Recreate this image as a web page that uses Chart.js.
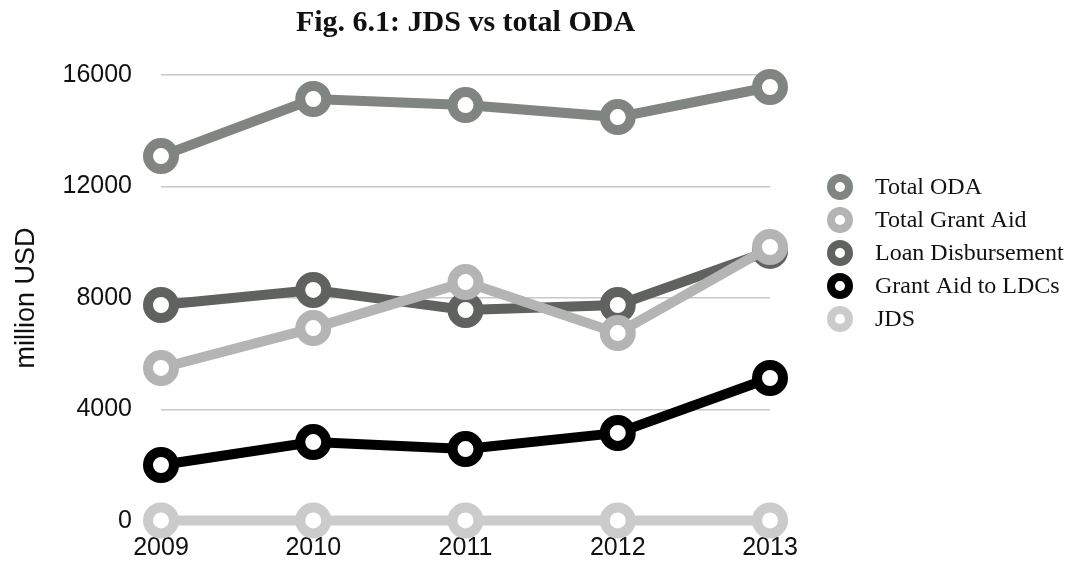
<!DOCTYPE html>
<html>
<head>
<meta charset="utf-8">
<title>Fig. 6.1: JDS vs total ODA</title>
<script src="https://cdn.jsdelivr.net/npm/chart.js@4.4.1/dist/chart.umd.min.js"></script>
<style>
    html, body { margin: 0; padding: 0; background: #fff; overflow: hidden; }
    #wrap { width: 1084px; height: 565px; position: relative; }
</style>
</head>
<body>
<div id="wrap"><canvas id="graficoOda"></canvas></div>
<script>
// Data (million USD)
const years = ['2009', '2010', '2011', '2012', '2013'];
const totalOda = [13090, 15140, 14920, 14490, 15570];
const totalGrantAid = [5490, 6920, 8570, 6740, 9830];
const loanDisbursement = [7750, 8290, 7570, 7750, 9690];
const grantAidLdcs = [2010, 2830, 2580, 3160, 5130];
const jds = [20, 20, 20, 20, 20];
const yTicks = [0, 4000, 8000, 12000, 16000];

const seriesNames = ['Total ODA', 'Total Grant Aid', 'Loan Disbursement', 'Grant Aid to LDCs', 'JDS'];
const seriesColors = ['#808582', '#b4b4b4', '#5f625f', '#000000', '#cbcbcb'];
const seriesData = [totalOda, totalGrantAid, loanDisbursement, grantAidLdcs, jds];

function makeDataset(i) {
    return {
        label: seriesNames[i],
        data: seriesData[i],
        borderColor: seriesColors[i],
        backgroundColor: '#ffffff',
        borderWidth: 10,
        tension: 0,
        fill: false,
        clip: false,
        pointRadius: 13,
        pointHoverRadius: 13,
        pointBorderWidth: 10,
        pointBackgroundColor: '#ffffff',
        pointBorderColor: seriesColors[i]
    };
}

// Legend drawn by hand so it sits where the original one is
const sideLegend = {
    id: 'sideLegend',
    afterDraw(chart) {
        const ctx = chart.ctx;
        ctx.save();
        ctx.font = '24px "Liberation Serif", "DejaVu Serif", serif';
        ctx.textBaseline = 'middle';
        ctx.textAlign = 'left';
        seriesNames.forEach((name, i) => {
            const y = 187 + i * 33;
            ctx.beginPath();
            ctx.arc(840, y, 9, 0, Math.PI * 2);
            ctx.fillStyle = '#ffffff';
            ctx.fill();
            ctx.lineWidth = 8;
            ctx.strokeStyle = seriesColors[i];
            ctx.stroke();
            ctx.fillStyle = '#111111';
            ctx.fillText(name, 875, y + 1);
        });
        ctx.restore();
    }
};

const ctx = document.getElementById('graficoOda').getContext('2d');
new Chart(ctx, {
    type: 'line',
    data: {
        labels: years,
        datasets: seriesData.map((_, i) => makeDataset(i))
    },
    options: {
        responsive: true,
        maintainAspectRatio: false,
        animation: false,
        layout: { autoPadding: false, padding: { right: 314, bottom: 0, left: 0 } },
        plugins: {
            legend: { display: false },
            tooltip: { enabled: false },
            title: {
                display: true,
                fullSize: false,
                text: 'Fig. 6.1: JDS vs total ODA',
                color: '#111111',
                font: { family: '"Liberation Serif", "DejaVu Serif", serif', size: 30, weight: 'bold' },
                padding: { top: 5, bottom: 34 }
            }
        },
        scales: {
            x: {
                offset: false,
                afterFit: axis => { axis.height = 42; },
                grid: { display: false, drawTicks: false },
                border: { display: false },
                ticks: {
                    color: '#111111',
                    padding: 12,
                    maxRotation: 0,
                    font: { family: '"Liberation Sans", Arial, sans-serif', size: 25 }
                }
            },
            y: {
                min: 0,
                max: 16000,
                afterFit: axis => { axis.width = 161; },
                afterBuildTicks: axis => { axis.ticks = yTicks.map(v => ({ value: v })); },
                grid: { color: '#c8c8c8', lineWidth: 1.5, drawTicks: false },
                border: { display: false },
                ticks: {
                    color: '#111111',
                    padding: 29,
                    callback: value => String(value),
                    font: { family: '"Liberation Sans", Arial, sans-serif', size: 25 }
                },
                title: {
                    display: true,
                    text: 'million USD',
                    color: '#111111',
                    padding: { top: 10, bottom: 16 },
                    font: { family: '"Liberation Sans", Arial, sans-serif', size: 27 }
                }
            }
        }
    },
    plugins: [sideLegend]
});
</script>
</body>
</html>
